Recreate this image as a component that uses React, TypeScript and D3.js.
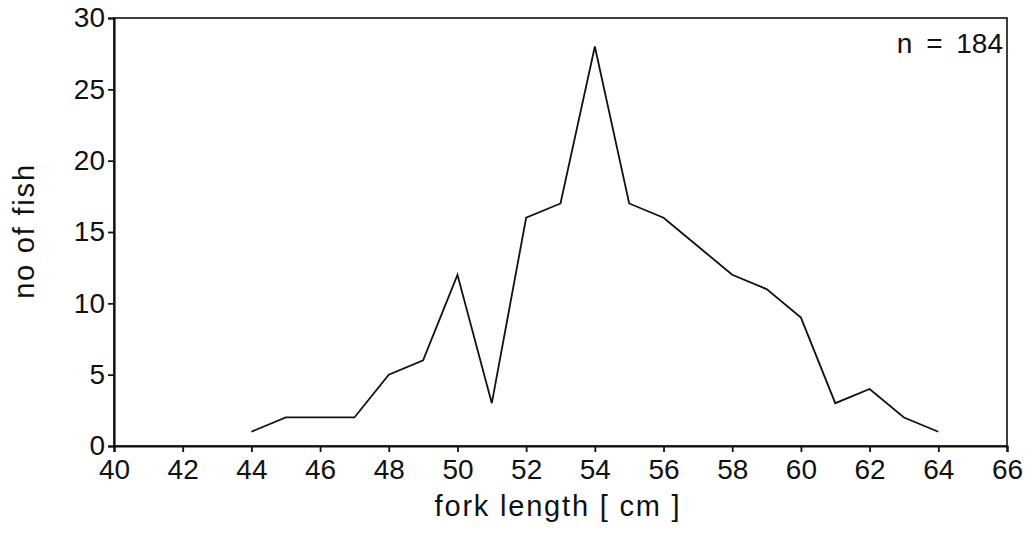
import React, { useEffect, useRef } from "react";
import * as d3 from "d3";

// fork length classes (cm) and counts
const forkLength = [44, 45, 46, 47, 48, 49, 50, 51, 52, 53, 54, 55, 56, 57, 58, 59, 60, 61, 62, 63, 64];
const fishCount = [1, 2, 2, 2, 5, 6, 12, 3, 16, 17, 28, 17, 16, 14, 12, 11, 9, 3, 4, 2, 1];
const xTicks = [40, 42, 44, 46, 48, 50, 52, 54, 56, 58, 60, 62, 64, 66];
const yTicks = [0, 5, 10, 15, 20, 25, 30];

const W = 1030;
const H = 533;
const FONT = "'Liberation Sans', Arial, Helvetica, sans-serif";

const App = () => {
	const ref = useRef(null);

	useEffect(() => {
		const margin = { top: 18, right: 23, bottom: 87, left: 114 };
		const width = W - margin.left - margin.right;
		const height = H - margin.top - margin.bottom;

		const svg = d3.select(ref.current);
		const x = d3.scaleLinear().domain([40, 66]).range([0, width]);
		const y = d3.scaleLinear().domain([0, 30]).range([height, 0]);

		const g = svg
			.append("g")
			.attr("transform", "translate(" + margin.left + "," + margin.top + ")");

		// frame (top + right sides)
		g.append("rect")
			.attr("x", 0)
			.attr("y", 0)
			.attr("width", width)
			.attr("height", height)
			.attr("fill", "none")
			.attr("stroke", "#111")
			.attr("stroke-width", 1.6);

		const xAxis = g
			.append("g")
			.attr("transform", "translate(0," + height + ")")
			.call(d3.axisBottom(x).tickValues(xTicks).tickSize(6).tickPadding(7));
		const yAxis = g
			.append("g")
			.call(d3.axisLeft(y).tickValues(yTicks).tickSize(6).tickPadding(3));

		[xAxis, yAxis].forEach((a) => {
			a.select(".domain").attr("stroke", "#111").attr("stroke-width", 2.2);
			a.selectAll(".tick line").attr("stroke", "#111").attr("stroke-width", 1.8);
			a.selectAll("text")
				.attr("fill", "#111")
				.style("font-family", FONT)
				.style("font-size", "28px");
		});

		const line = d3
			.line()
			.x((d) => x(d[0]))
			.y((d) => y(d[1]));

		g.append("path")
			.datum(forkLength.map((v, i) => [v, fishCount[i]]))
			.attr("d", line)
			.attr("fill", "none")
			.attr("stroke", "#111")
			.attr("stroke-width", 1.8)
			.attr("stroke-linejoin", "miter");

		g.append("text")
			.attr("x", width - 4)
			.attr("y", 35)
			.attr("text-anchor", "end")
			.attr("fill", "#111")
			.style("font-family", FONT)
			.style("font-size", "28px")
			.style("word-spacing", "6px")
			.text("n = 184");

		svg.append("text")
			.attr("x", 558)
			.attr("y", 516)
			.attr("text-anchor", "middle")
			.attr("fill", "#111")
			.style("font-family", FONT)
			.style("font-size", "29px")
			.style("letter-spacing", "1.8px")
			.text("fork length [ cm ]");

		svg.append("text")
			.attr("transform", "translate(34,231) rotate(-90)")
			.attr("text-anchor", "middle")
			.attr("fill", "#111")
			.style("font-family", FONT)
			.style("font-size", "29px")
			.style("letter-spacing", "1.8px")
			.text("no of fish");

		return () => {
			svg.selectAll("*").remove();
		};
	}, []);

	return (
		<svg
			ref={ref}
			width={W}
			height={H}
			style={{ position: "absolute", left: 0, top: 0, background: "#fff" }}
		></svg>
	);
};

export default App;
